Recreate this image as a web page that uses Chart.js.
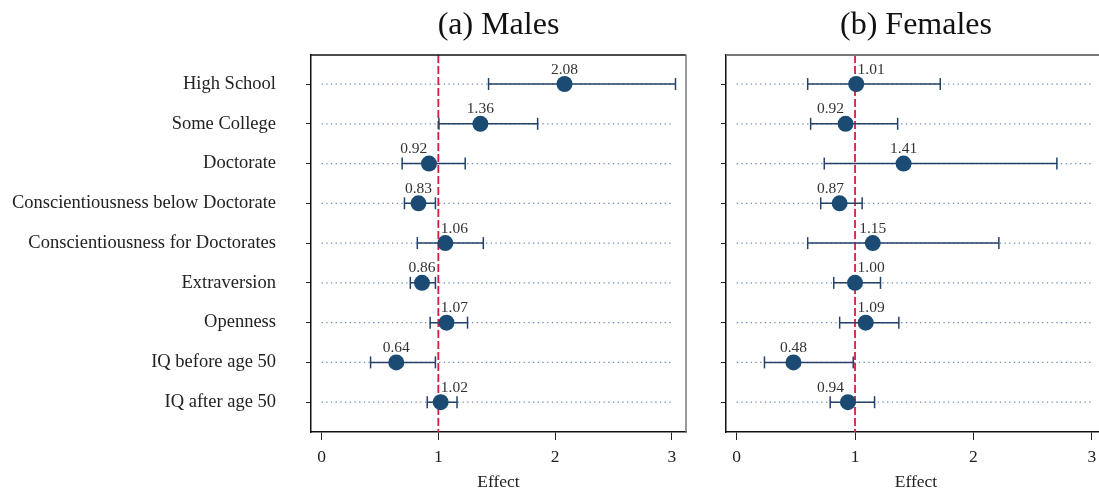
<!DOCTYPE html>
<html>
<head>
<meta charset="utf-8">
<script src="https://cdn.jsdelivr.net/npm/chart.js@4.4.0/dist/chart.umd.min.js"></script>
<style>
html, body { margin: 0; padding: 0; background: #fff; overflow: hidden; width: 1099px; height: 493px; }
.panel { position: absolute; top: 0; height: 493px; }
#wrapM { left: 0; width: 700px; }
#wrapF { left: 700px; width: 420px; }
</style>
</head>
<body>
<div class="panel" id="wrapM"><canvas id="chartM" width="700" height="493"></canvas></div>
<div class="panel" id="wrapF"><canvas id="chartF" width="420" height="493"></canvas></div>
<script>
// data
const categories = ['High School', 'Some College', 'Doctorate', 'Conscientiousness below Doctorate',
    'Conscientiousness for Doctorates', 'Extraversion', 'Openness', 'IQ before age 50', 'IQ after age 50'];
const xTicks = [0, 1, 2, 3];
const refValue = 1;

const malesEst  = [2.08, 1.36, 0.92, 0.83, 1.06, 0.86, 1.07, 0.64, 1.02];
const malesLow  = [1.43, 1.005, 0.69, 0.71, 0.82, 0.76, 0.93, 0.42, 0.905];
const malesHigh = [3.03, 1.85, 1.23, 0.975, 1.385, 0.975, 1.25, 0.975, 1.16];

const femalesEst  = [1.01, 0.92, 1.41, 0.87, 1.15, 1.00, 1.09, 0.48, 0.94];
const femalesLow  = [0.60, 0.625, 0.74, 0.71, 0.60, 0.82, 0.87, 0.235, 0.79];
const femalesHigh = [1.72, 1.36, 2.705, 1.06, 2.215, 1.215, 1.37, 0.985, 1.165];

const serif = "'Liberation Serif', 'DejaVu Serif', serif";
const yMin = 0.27, yMax = 9.75;

// value labels above each dot, pushed off the red line when they would cross it
const valueLabels = {
    id: 'valueLabels',
    afterDatasetsDraw(chart) {
        const { ctx, scales: { x, y } } = chart;
        const lineX = x.getPixelForValue(refValue);
        ctx.save();
        ctx.font = '15.5px ' + serif;
        ctx.fillStyle = '#333';
        ctx.textAlign = 'left';
        ctx.textBaseline = 'alphabetic';
        chart.data.datasets[0].data.forEach(p => {
            const txt = p.x.toFixed(2);
            const w = ctx.measureText(txt).width;
            const px = x.getPixelForValue(p.x);
            const py = y.getPixelForValue(p.y);
            let left = px - w / 2;
            if (left < lineX + 2 && left + w > lineX - 2) {
                left = p.x >= refValue ? lineX + 2.5 : lineX - 11 - w;
            }
            ctx.fillText(txt, left, py - 10.5);
        });
        ctx.restore();
    }
};

// panel title and the top / right frame lines
const panelDeco = {
    id: 'panelDeco',
    afterDraw(chart, args, opts) {
        const { ctx, chartArea: a } = chart;
        ctx.save();
        ctx.font = '32px ' + serif;
        ctx.fillStyle = '#111';
        ctx.textAlign = 'center';
        ctx.textBaseline = 'alphabetic';
        ctx.fillText(opts.title, (a.left + a.right) / 2, 33.5);
        ctx.strokeStyle = opts.topColor;
        ctx.lineWidth = opts.topWidth;
        ctx.beginPath();
        ctx.moveTo(a.left, a.top);
        ctx.lineTo(a.right, a.top);
        ctx.stroke();
        ctx.strokeStyle = '#777';
        ctx.lineWidth = 1.5;
        ctx.beginPath();
        ctx.moveTo(a.right, a.top);
        ctx.lineTo(a.right, a.bottom);
        ctx.stroke();
        ctx.restore();
    }
};

function makePanel(id, title, est, low, high, showNames, yWidth, topColor, topWidth) {
    const rows = est.map((v, i) => i + 1);
    const points = est.map((v, i) => ({ x: v, y: rows[i] }));
    const bars = [];
    low.forEach((v, i) => {
        bars.push({ x: v, y: rows[i] }, { x: high[i], y: rows[i] }, { x: null, y: null });
    });
    const guides = [];
    rows.forEach(r => {
        guides.push({ x: xTicks[0], y: r }, { x: xTicks[xTicks.length - 1], y: r }, { x: null, y: null });
    });

    return new Chart(document.getElementById(id), {
        type: 'scatter',
        data: {
            datasets: [
                {
                    data: points,
                    showLine: false,
                    pointRadius: 8,
                    pointBackgroundColor: '#1b4a73',
                    pointBorderWidth: 0
                },
                {
                    data: bars,
                    showLine: true,
                    spanGaps: false,
                    borderColor: '#24416a',
                    borderWidth: 1.5,
                    pointStyle: 'line',
                    pointRotation: 90,
                    pointRadius: 6,
                    pointBorderWidth: 1.5,
                    pointBorderColor: '#24416a'
                },
                {
                    data: [{ x: refValue, y: yMin }, { x: refValue, y: yMax }],
                    showLine: true,
                    borderColor: '#d41f44',
                    borderWidth: 1.8,
                    borderDash: [8, 3],
                    pointRadius: 0
                },
                {
                    data: guides,
                    showLine: true,
                    spanGaps: false,
                    borderColor: '#6a8cb0',
                    borderWidth: 1.2,
                    borderDash: [1.3, 3.4],
                    pointRadius: 0
                }
            ]
        },
        options: {
            responsive: false,
            animation: false,
            layout: { padding: { top: 55, right: 14, left: 0, bottom: 0 } },
            plugins: {
                legend: { display: false },
                tooltip: { enabled: false },
                panelDeco: { title: title, topColor: topColor, topWidth: topWidth }
            },
            scales: {
                x: {
                    type: 'linear',
                    min: -0.09,
                    max: 3.12,
                    afterBuildTicks: s => { s.ticks = xTicks.map(v => ({ value: v })); },
                    afterFit: s => { s.height = 61; },
                    grid: { drawOnChartArea: false, tickLength: 8, color: '#222', tickWidth: 1 },
                    border: { display: true, color: '#111', width: 1.5 },
                    ticks: { padding: 7, color: '#222', font: { family: serif, size: 17.5 } },
                    title: { display: true, text: 'Effect', color: '#222', padding: 0, font: { family: serif, size: 17.5 } }
                },
                y: {
                    type: 'linear',
                    reverse: true,
                    min: yMin,
                    max: yMax,
                    afterBuildTicks: s => { s.ticks = rows.map(v => ({ value: v })); },
                    afterFit: s => { s.width = yWidth; },
                    grid: { drawOnChartArea: false, tickLength: 5, color: '#222', tickWidth: 1 },
                    border: { display: true, color: '#111', width: 1.5 },
                    ticks: {
                        padding: 30,
                        color: '#222',
                        font: { family: serif, size: 18.5 },
                        callback: v => showNames ? categories[v - 1] : ''
                    }
                }
            }
        },
        plugins: [valueLabels, panelDeco]
    });
}

makePanel('chartM', '(a) Males', malesEst, malesLow, malesHigh, true, 311, '#111', 1.5);
makePanel('chartF', '(b) Females', femalesEst, femalesLow, femalesHigh, false, 26, '#777', 2);
</script>
</body>
</html>
